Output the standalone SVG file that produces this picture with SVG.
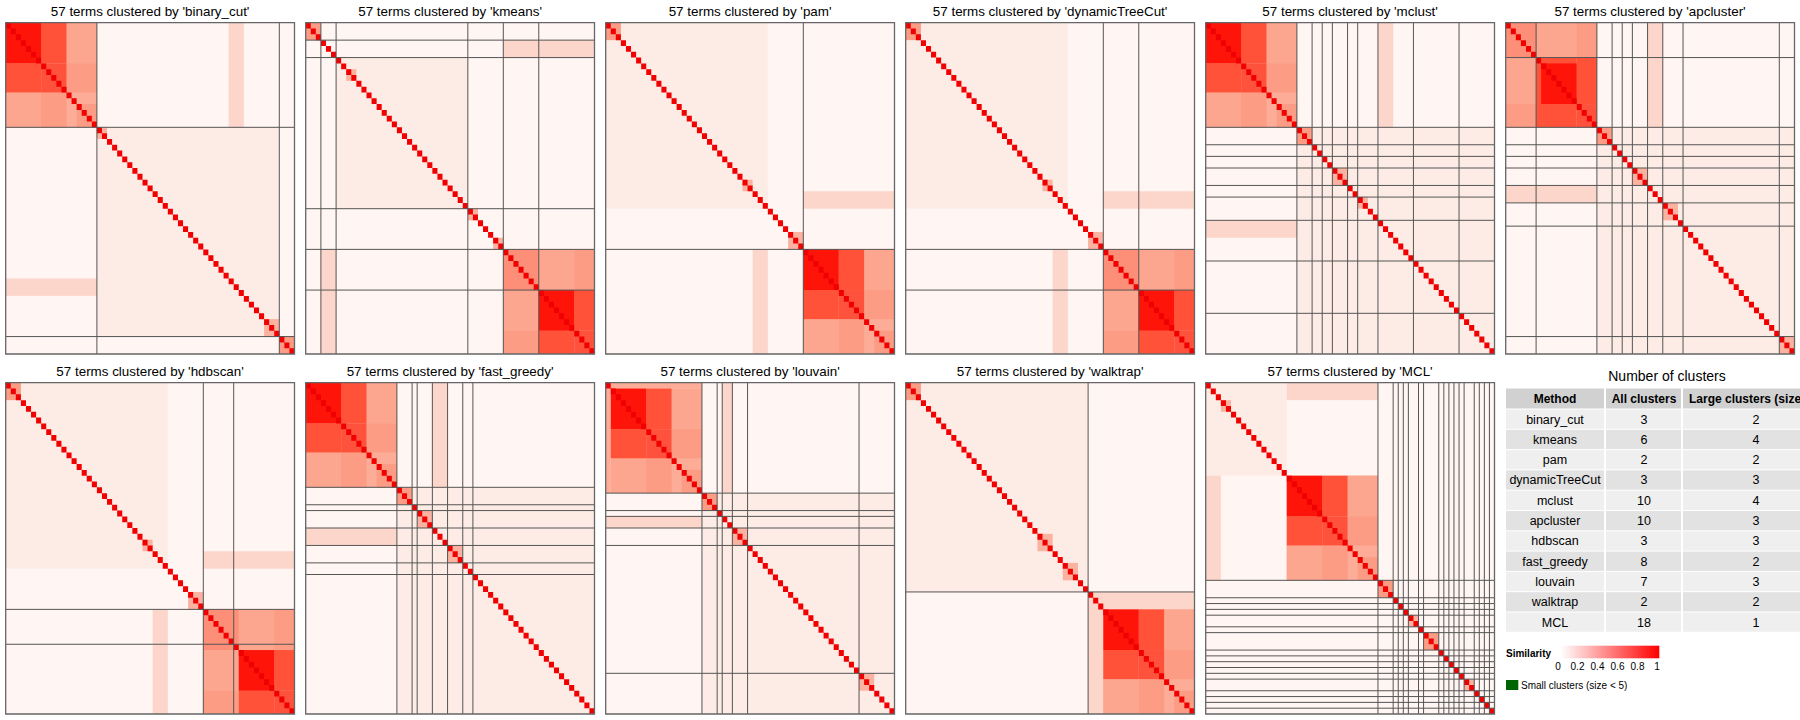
<svg xmlns="http://www.w3.org/2000/svg" xmlns:xlink="http://www.w3.org/1999/xlink" width="1800" height="720" viewBox="0 0 1800 720">
<style>
text{font-family:"Liberation Sans",Arial,Helvetica,sans-serif;fill:#000}
.ti{font-size:13.4px;text-anchor:middle}
.bg{fill:#fff5f2}
.sp{fill:#fdece6}
.st{fill:#fdd6cb}
.pk{fill:#fcb2a0}
.lr{fill:#fd8f78}
.ll{fill:#fcac97}
.ml{fill:#fc9c84}
.dl{fill:#fca690}
.mm{fill:#ff523c}
.dm{fill:#ff5238}
.dd{fill:#ff140a}
.dg{fill:#f00000}
.cl{fill:none;stroke:#555;stroke-width:1;vector-effect:non-scaling-stroke}
.bd{fill:none;stroke:#666;stroke-width:1.3;vector-effect:non-scaling-stroke}
.th{font-size:12px;font-weight:bold;text-anchor:middle}
.td{font-size:12.5px;text-anchor:middle}
.r0{fill:#efefef}
.r1{fill:#e2e2e2}
.lg{font-size:10px}
</style>
<defs>
<path id="diag" class="dg" d="M0 0h1v1h-1z
m1 1h1v1h-1zm1 1h1v1h-1zm1 1h1v1h-1zm1 1h1v1h-1zm1 1h1v1h-1zm1 1h1v1h-1zm1 1h1v1h-1zm1 1h1v1h-1z
m1 1h1v1h-1zm1 1h1v1h-1zm1 1h1v1h-1zm1 1h1v1h-1zm1 1h1v1h-1zm1 1h1v1h-1zm1 1h1v1h-1zm1 1h1v1h-1z
m1 1h1v1h-1zm1 1h1v1h-1zm1 1h1v1h-1zm1 1h1v1h-1zm1 1h1v1h-1zm1 1h1v1h-1zm1 1h1v1h-1zm1 1h1v1h-1z
m1 1h1v1h-1zm1 1h1v1h-1zm1 1h1v1h-1zm1 1h1v1h-1zm1 1h1v1h-1zm1 1h1v1h-1zm1 1h1v1h-1zm1 1h1v1h-1z
m1 1h1v1h-1zm1 1h1v1h-1zm1 1h1v1h-1zm1 1h1v1h-1zm1 1h1v1h-1zm1 1h1v1h-1zm1 1h1v1h-1zm1 1h1v1h-1z
m1 1h1v1h-1zm1 1h1v1h-1zm1 1h1v1h-1zm1 1h1v1h-1zm1 1h1v1h-1zm1 1h1v1h-1zm1 1h1v1h-1zm1 1h1v1h-1z
m1 1h1v1h-1zm1 1h1v1h-1zm1 1h1v1h-1zm1 1h1v1h-1zm1 1h1v1h-1zm1 1h1v1h-1zm1 1h1v1h-1zm1 1h1v1h-1z"/>
<g id="blockA">
<rect class="ll" width="18" height="18"/>
<rect class="dl" x="12" y="0" width="6" height="7"/>
<rect class="dl" x="0" y="12" width="7" height="6"/>
<rect class="ml" x="12" y="7" width="6" height="5"/>
<rect class="ml" x="7" y="12" width="5" height="6"/>
<rect class="dm" x="7" y="0" width="5" height="7"/>
<rect class="dm" x="0" y="7" width="7" height="5"/>
<rect class="mm" x="7" y="7" width="5" height="5"/>
<rect class="dd" width="7" height="7"/>
<rect class="ml" x="14" y="14" width="4" height="4"/>
</g>
<g id="blockB">
<rect class="ll" width="18" height="18"/>
<rect class="lr" width="7" height="7"/>
<rect class="dl" x="7" y="0" width="7" height="7"/>
<rect class="dl" x="0" y="7" width="7" height="7"/>
<rect class="ml" x="14" y="0" width="4" height="7"/>
<rect class="ml" x="0" y="14" width="7" height="4"/>
<rect class="dm" x="14" y="7" width="4" height="7"/>
<rect class="dm" x="7" y="14" width="7" height="4"/>
<rect class="mm" x="14" y="14" width="4" height="4"/>
<rect class="dd" x="7" y="7" width="7" height="7"/>
</g>
<linearGradient id="sim" x1="0" y1="0" x2="1" y2="0">
<stop offset="0" stop-color="#ffffff"/>
<stop offset="1" stop-color="#ff0000"/>
</linearGradient>
</defs>
<rect width="1800" height="720" fill="#ffffff"/>

<g id="titles">
<text class="ti" x="150.1" y="15.5">57 terms clustered by 'binary_cut'</text>
<text class="ti" x="450.1" y="15.5">57 terms clustered by 'kmeans'</text>
<text class="ti" x="750.1" y="15.5">57 terms clustered by 'pam'</text>
<text class="ti" x="1050.1" y="15.5">57 terms clustered by 'dynamicTreeCut'</text>
<text class="ti" x="1350.1" y="15.5">57 terms clustered by 'mclust'</text>
<text class="ti" x="1650.1" y="15.5">57 terms clustered by 'apcluster'</text>
<text class="ti" x="150.1" y="375.5">57 terms clustered by 'hdbscan'</text>
<text class="ti" x="450.1" y="375.5">57 terms clustered by 'fast_greedy'</text>
<text class="ti" x="750.1" y="375.5">57 terms clustered by 'louvain'</text>
<text class="ti" x="1050.1" y="375.5">57 terms clustered by 'walktrap'</text>
<text class="ti" x="1350.1" y="375.5">57 terms clustered by 'MCL'</text>
</g>

<g id="hm-binary_cut" transform="translate(5.7,22.7) scale(5.0667,5.8123)">
<rect class="bg" width="57" height="57"/>
<rect class="sp" x="18" y="18" width="36" height="36"/>
<rect class="st" x="0" y="44" width="18" height="3"/>
<rect class="st" x="44" y="0" width="3" height="18"/>
<use xlink:href="#blockA" href="#blockA"/>
<rect class="pk" x="18" y="18" width="2" height="2"/>
<rect class="pk" x="51" y="51" width="3" height="3"/>
<rect class="ml" x="54" y="54" width="3" height="3"/>
<use xlink:href="#diag" href="#diag"/>
<path class="cl" d="M18 0V57M0 18H57M54 0V57M0 54H57"/>
<rect class="bd" width="57" height="57"/>
</g>

<g id="hm-kmeans" transform="translate(305.7,22.7) scale(5.0667,5.8123)">
<rect class="bg" width="57" height="57"/>
<rect class="sp" x="6" y="6" width="26" height="26"/>
<rect class="st" x="39" y="3" width="18" height="3"/>
<rect class="st" x="3" y="39" width="3" height="18"/>
<use xlink:href="#blockB" href="#blockB" x="39" y="39"/>
<rect class="ml" x="0" y="0" width="3" height="3"/>
<rect class="pk" x="8" y="8" width="2" height="2"/>
<rect class="pk" x="32" y="32" width="2" height="2"/>
<rect class="pk" x="37" y="37" width="2" height="2"/>
<use xlink:href="#diag" href="#diag"/>
<path class="cl" d="M3 0V57M0 3H57M6 0V57M0 6H57M32 0V57M0 32H57M39 0V57M0 39H57M46 0V57M0 46H57"/>
<rect class="bd" width="57" height="57"/>
</g>

<g id="hm-pam" transform="translate(605.7,22.7) scale(5.0667,5.8123)">
<rect class="bg" width="57" height="57"/>
<rect class="sp" x="0" y="0" width="32" height="32"/>
<rect class="st" x="39" y="29" width="18" height="3"/>
<rect class="st" x="29" y="39" width="3" height="18"/>
<use xlink:href="#blockA" href="#blockA" x="39" y="39"/>
<rect class="ml" x="0" y="0" width="3" height="3"/>
<rect class="pk" x="27" y="27" width="2" height="2"/>
<rect class="pk" x="36" y="36" width="3" height="3"/>
<use xlink:href="#diag" href="#diag"/>
<path class="cl" d="M39 0V57M0 39H57"/>
<rect class="bd" width="57" height="57"/>
</g>

<g id="hm-dynamicTreeCut" transform="translate(905.7,22.7) scale(5.0667,5.8123)">
<rect class="bg" width="57" height="57"/>
<rect class="sp" x="0" y="0" width="32" height="32"/>
<rect class="st" x="39" y="29" width="18" height="3"/>
<rect class="st" x="29" y="39" width="3" height="18"/>
<use xlink:href="#blockB" href="#blockB" x="39" y="39"/>
<rect class="ml" x="0" y="0" width="3" height="3"/>
<rect class="pk" x="27" y="27" width="2" height="2"/>
<rect class="pk" x="36" y="36" width="3" height="3"/>
<use xlink:href="#diag" href="#diag"/>
<path class="cl" d="M39 0V57M0 39H57M46 0V57M0 46H57"/>
<rect class="bd" width="57" height="57"/>
</g>

<g id="hm-mclust" transform="translate(1205.7,22.7) scale(5.0667,5.8123)">
<rect class="bg" width="57" height="57"/>
<rect class="sp" x="18" y="18" width="39" height="39"/>
<rect class="st" x="0" y="34" width="18" height="3"/>
<rect class="st" x="34" y="0" width="3" height="18"/>
<use xlink:href="#blockA" href="#blockA"/>
<rect class="ml" x="18" y="18" width="3" height="3"/>
<rect class="pk" x="25" y="25" width="3" height="3"/>
<rect class="pk" x="30" y="30" width="2" height="2"/>
<use xlink:href="#diag" href="#diag"/>
<path class="cl" d="M18 0V57M0 18H57M21 0V57M0 21H57M23 0V57M0 23H57M25 0V57M0 25H57M28 0V57M0 28H57M30 0V57M0 30H57M34 0V57M0 34H57M41 0V57M0 41H57M50 0V57M0 50H57"/>
<rect class="bd" width="57" height="57"/>
</g>

<g id="hm-apcluster" transform="translate(1505.7,22.7) scale(5.0667,5.8123)">
<rect class="bg" width="57" height="57"/>
<rect class="sp" x="18" y="18" width="39" height="39"/>
<rect class="st" x="0" y="28" width="18" height="3"/>
<rect class="st" x="28" y="0" width="3" height="18"/>
<rect class="ll" width="18" height="18"/>
<rect class="lr" width="6" height="6"/>
<rect class="dl" x="6" y="0" width="8" height="6"/>
<rect class="dl" x="0" y="6" width="6" height="8"/>
<rect class="ml" x="14" y="0" width="4" height="6"/>
<rect class="ml" x="0" y="14" width="6" height="4"/>
<rect class="dm" x="14" y="6" width="4" height="8"/>
<rect class="dm" x="6" y="14" width="8" height="4"/>
<rect class="mm" x="14" y="14" width="4" height="4"/>
<rect class="dm" x="6" y="6" width="8" height="8"/>
<rect class="dd" x="7" y="7" width="7" height="7"/>
<rect class="ml" x="18" y="18" width="3" height="3"/>
<rect class="pk" x="25" y="25" width="3" height="3"/>
<rect class="pk" x="31" y="31" width="3" height="3"/>
<rect class="pk" x="54" y="54" width="3" height="3"/>
<use xlink:href="#diag" href="#diag"/>
<path class="cl" d="M6 0V57M0 6H57M18 0V57M0 18H57M21 0V57M0 21H57M23 0V57M0 23H57M25 0V57M0 25H57M28 0V57M0 28H57M31 0V57M0 31H57M35 0V57M0 35H57M54 0V57M0 54H57"/>
<rect class="bd" width="57" height="57"/>
</g>

<g id="hm-hdbscan" transform="translate(5.7,382.7) scale(5.0667,5.8123)">
<rect class="bg" width="57" height="57"/>
<rect class="sp" x="0" y="0" width="32" height="32"/>
<rect class="st" x="39" y="29" width="18" height="3"/>
<rect class="st" x="29" y="39" width="3" height="18"/>
<use xlink:href="#blockB" href="#blockB" x="39" y="39"/>
<rect class="ml" x="0" y="0" width="3" height="3"/>
<rect class="pk" x="27" y="27" width="2" height="2"/>
<rect class="pk" x="36" y="36" width="3" height="3"/>
<use xlink:href="#diag" href="#diag"/>
<path class="cl" d="M39 0V57M0 39H57M45 0V57M0 45H57"/>
<rect class="bd" width="57" height="57"/>
</g>

<g id="hm-fast_greedy" transform="translate(305.7,382.7) scale(5.0667,5.8123)">
<rect class="bg" width="57" height="57"/>
<rect class="sp" x="18" y="18" width="39" height="39"/>
<rect class="st" x="0" y="25" width="18" height="3"/>
<rect class="st" x="25" y="0" width="3" height="18"/>
<use xlink:href="#blockA" href="#blockA"/>
<rect class="ml" x="18" y="18" width="3" height="3"/>
<rect class="pk" x="22" y="22" width="3" height="3"/>
<rect class="pk" x="28" y="28" width="3" height="3"/>
<use xlink:href="#diag" href="#diag"/>
<path class="cl" d="M18 0V57M0 18H57M21 0V57M0 21H57M22 0V57M0 22H57M25 0V57M0 25H57M28 0V57M0 28H57M31 0V57M0 31H57M33 0V57M0 33H57"/>
<rect class="bd" width="57" height="57"/>
</g>

<g id="hm-louvain" transform="translate(605.7,382.7) scale(5.0667,5.8123)">
<rect class="bg" width="57" height="57"/>
<rect class="sp" x="19" y="19" width="38" height="38"/>
<rect class="st" x="0" y="23" width="19" height="2"/>
<rect class="st" x="23" y="0" width="2" height="19"/>
<rect class="ll" x="0" y="0" width="19" height="1"/>
<rect class="ll" x="0" y="0" width="1" height="19"/>
<use xlink:href="#blockA" href="#blockA" x="1" y="1"/>
<rect class="ml" x="19" y="19" width="3" height="3"/>
<rect class="pk" x="25" y="25" width="3" height="3"/>
<rect class="pk" x="50" y="50" width="3" height="3"/>
<use xlink:href="#diag" href="#diag"/>
<path class="cl" d="M19 0V57M0 19H57M22 0V57M0 22H57M23 0V57M0 23H57M25 0V57M0 25H57M28 0V57M0 28H57M50 0V57M0 50H57"/>
<rect class="bd" width="57" height="57"/>
</g>

<g id="hm-walktrap" transform="translate(905.7,382.7) scale(5.0667,5.8123)">
<rect class="bg" width="57" height="57"/>
<rect class="sp" x="0" y="0" width="36" height="36"/>
<rect class="st" x="36" y="36" width="21" height="3"/>
<rect class="st" x="36" y="36" width="3" height="21"/>
<use xlink:href="#blockA" href="#blockA" x="39" y="39"/>
<rect class="ml" x="0" y="0" width="3" height="3"/>
<rect class="pk" x="26" y="26" width="3" height="3"/>
<rect class="pk" x="31" y="31" width="3" height="3"/>
<use xlink:href="#diag" href="#diag"/>
<path class="cl" d="M36 0V57M0 36H57"/>
<rect class="bd" width="57" height="57"/>
</g>

<g id="hm-MCL" transform="translate(1205.7,382.7) scale(5.0667,5.8123)">
<rect class="bg" width="57" height="57"/>
<rect class="sp" x="0" y="0" width="16" height="16"/>
<rect class="st" x="16" y="0" width="18" height="3"/>
<rect class="st" x="0" y="16" width="3" height="18"/>
<use xlink:href="#blockA" href="#blockA" x="16" y="16"/>
<rect class="pk" x="3" y="3" width="2" height="2"/>
<rect class="ml" x="34" y="34" width="3" height="3"/>
<rect class="pk" x="40" y="40" width="2" height="2"/>
<rect class="ml" x="43" y="43" width="3" height="3"/>
<rect class="pk" x="51" y="51" width="2" height="2"/>
<use xlink:href="#diag" href="#diag"/>
<path class="cl" d="M34 0V57M0 34H57M37 0V57M0 37H57M38 0V57M0 38H57M39 0V57M0 39H57M40 0V57M0 40H57M42 0V57M0 42H57M43 0V57M0 43H57M46 0V57M0 46H57M47 0V57M0 47H57M48 0V57M0 48H57M49 0V57M0 49H57M50 0V57M0 50H57M51 0V57M0 51H57M53 0V57M0 53H57M54 0V57M0 54H57M55 0V57M0 55H57M56 0V57M0 56H57"/>
<rect class="bd" width="57" height="57"/>
</g>

<g id="table">
<text x="1667" y="381" style="font-size:14px;text-anchor:middle">Number of clusters</text>
<rect x="1506" y="388.5" width="294" height="20" fill="#d1d1d1"/>
<rect class="r0" x="1506" y="409.5" width="294" height="19.3"/>
<rect class="r1" x="1506" y="429.8" width="294" height="19.3"/>
<rect class="r0" x="1506" y="450.1" width="294" height="19.3"/>
<rect class="r1" x="1506" y="470.4" width="294" height="19.3"/>
<rect class="r0" x="1506" y="490.7" width="294" height="19.3"/>
<rect class="r1" x="1506" y="511.0" width="294" height="19.3"/>
<rect class="r0" x="1506" y="531.3" width="294" height="19.3"/>
<rect class="r1" x="1506" y="551.6" width="294" height="19.3"/>
<rect class="r0" x="1506" y="571.9" width="294" height="19.3"/>
<rect class="r1" x="1506" y="592.2" width="294" height="19.3"/>
<rect class="r0" x="1506" y="612.5" width="294" height="19.3"/>
<rect x="1604" y="388" width="2" height="245" fill="#ffffff"/>
<rect x="1681" y="388" width="2" height="245" fill="#ffffff"/>
<text class="th" x="1555" y="402.6">Method</text>
<text class="th" x="1644" y="402.6">All clusters</text>
<text class="th" x="1689" y="402.6" style="text-anchor:start">Large clusters (size</text>
<text class="td" x="1555" y="423.5">binary_cut</text><text class="td" x="1644" y="423.5">3</text><text class="td" x="1756" y="423.5">2</text>
<text class="td" x="1555" y="443.8">kmeans</text><text class="td" x="1644" y="443.8">6</text><text class="td" x="1756" y="443.8">4</text>
<text class="td" x="1555" y="464.1">pam</text><text class="td" x="1644" y="464.1">2</text><text class="td" x="1756" y="464.1">2</text>
<text class="td" x="1555" y="484.4">dynamicTreeCut</text><text class="td" x="1644" y="484.4">3</text><text class="td" x="1756" y="484.4">3</text>
<text class="td" x="1555" y="504.7">mclust</text><text class="td" x="1644" y="504.7">10</text><text class="td" x="1756" y="504.7">4</text>
<text class="td" x="1555" y="525.0">apcluster</text><text class="td" x="1644" y="525.0">10</text><text class="td" x="1756" y="525.0">3</text>
<text class="td" x="1555" y="545.3">hdbscan</text><text class="td" x="1644" y="545.3">3</text><text class="td" x="1756" y="545.3">3</text>
<text class="td" x="1555" y="565.6">fast_greedy</text><text class="td" x="1644" y="565.6">8</text><text class="td" x="1756" y="565.6">2</text>
<text class="td" x="1555" y="585.9">louvain</text><text class="td" x="1644" y="585.9">7</text><text class="td" x="1756" y="585.9">3</text>
<text class="td" x="1555" y="606.2">walktrap</text><text class="td" x="1644" y="606.2">2</text><text class="td" x="1756" y="606.2">2</text>
<text class="td" x="1555" y="626.5">MCL</text><text class="td" x="1644" y="626.5">18</text><text class="td" x="1756" y="626.5">1</text>
</g>

<g id="legend">
<text x="1506" y="657" style="font-size:10px;font-weight:bold">Similarity</text>
<rect x="1560.7" y="645.7" width="98.6" height="12.6" fill="url(#sim)"/>
<text class="lg" x="1558" y="670" text-anchor="middle">0</text>
<text class="lg" x="1577.5" y="670" text-anchor="middle">0.2</text>
<text class="lg" x="1597.5" y="670" text-anchor="middle">0.4</text>
<text class="lg" x="1617.5" y="670" text-anchor="middle">0.6</text>
<text class="lg" x="1637.5" y="670" text-anchor="middle">0.8</text>
<text class="lg" x="1657" y="670" text-anchor="middle">1</text>
<rect x="1506" y="680" width="12.3" height="10" fill="#006400"/>
<text class="lg" x="1521" y="688.5">Small clusters (size &lt; 5)</text>
</g>
</svg>
